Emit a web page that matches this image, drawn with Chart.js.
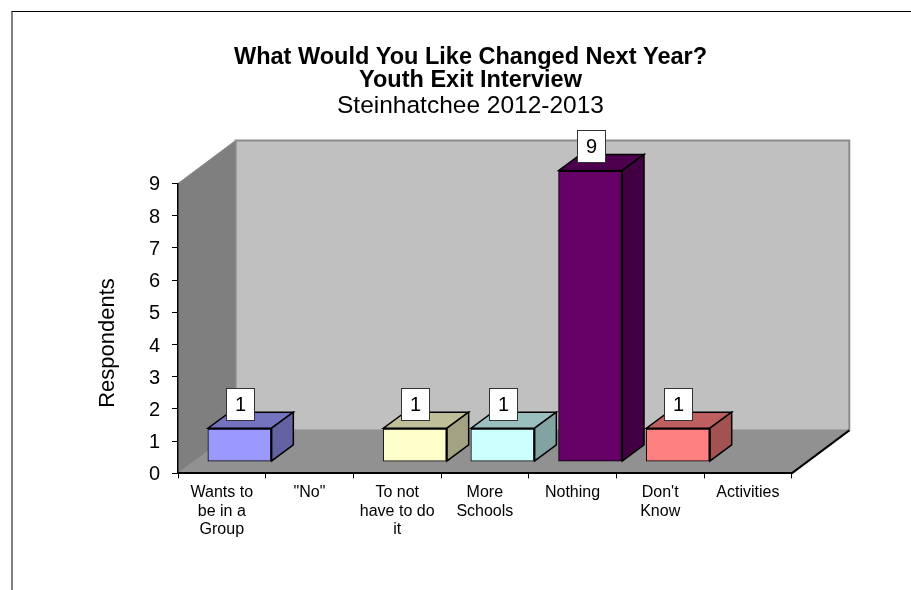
<!DOCTYPE html>
<html>
<head>
<meta charset="utf-8">
<title>What Would You Like Changed Next Year?</title>
<script src="https://cdn.jsdelivr.net/npm/chart.js@4"></script>
<style>
  html, body { margin: 0; padding: 0; background: #fff; overflow: hidden; }
  #wrap { position: relative; width: 911px; height: 590px; }
  #frame { position: absolute; left: 11px; top: 11px; right: 0; bottom: 0;
           border-left: 2px solid #808080; border-top: 1px solid #000; }
  canvas { position: absolute; left: 0; top: 0; }
</style>
</head>
<body>
<div id="wrap">
  <div id="frame"></div>
  <canvas id="chart" width="911" height="590"></canvas>
</div>
<script>
const categories = [
  ["Wants to", "be in a", "Group"],
  '"No"',
  ["To not", "have to do", "it"],
  ["More", "Schools"],
  "Nothing",
  ["Don't", "Know"],
  "Activities",
];
const respondents = [1, null, 1, 1, 9, 1, null];
const yTicks = [0, 1, 2, 3, 4, 5, 6, 7, 8, 9];
const frontColors = ["#9999FF", "#000000", "#FFFFCC", "#CCFFFF", "#660066", "#FF8080", "#000000"];
const topColors = ["#7373BF", "#000000", "#BFBF99", "#99BFBF", "#4D004D", "#BF6060", "#000000"];
const sideColors = ["#6262A3", "#000000", "#A3A383", "#83A3A3", "#420042", "#A35252", "#000000"];

const FONT = '"Liberation Sans", Arial, sans-serif';
// 3D look, in pixels
const WALL_DX = 57.6, WALL_DY = 43;
const BAR_OFF_X = 18, BAR_OFF_Y = 12.5;
const BAR_DX = 21.7, BAR_DY = 16;

function poly(ctx, pts, fill, stroke, lw) {
  ctx.beginPath();
  pts.forEach((p, i) => (i ? ctx.lineTo(p[0], p[1]) : ctx.moveTo(p[0], p[1])));
  ctx.closePath();
  if (fill) { ctx.fillStyle = fill; ctx.fill(); }
  if (stroke) { ctx.strokeStyle = stroke; ctx.lineWidth = lw || 1; ctx.stroke(); }
}

// back wall, side wall and floor
const wallsPlugin = {
  id: "walls",
  beforeDraw(chart) {
    const { ctx, chartArea: a } = chart;
    const l = a.left, r = a.right, t = a.top, b = a.bottom;
    ctx.save();
    poly(ctx, [[l + WALL_DX, t - WALL_DY], [r + WALL_DX, t - WALL_DY], [r + WALL_DX, b - WALL_DY], [l + WALL_DX, b - WALL_DY]], "#C0C0C0", "#8C8C8C", 2);
    poly(ctx, [[l, t], [l + WALL_DX, t - WALL_DY], [l + WALL_DX, b - WALL_DY], [l, b]], "#7F7F7F", "#8C8C8C", 1);
    poly(ctx, [[l, b], [l + WALL_DX, b - WALL_DY], [r + WALL_DX, b - WALL_DY], [r, b]], "#919191");
    ctx.strokeStyle = "#000";
    ctx.lineWidth = 2;
    ctx.beginPath();
    ctx.moveTo(r, b);
    ctx.lineTo(r + WALL_DX, b - WALL_DY);
    ctx.stroke();
    ctx.restore();
  },
};

// bar depth: top and side faces, the library draws the front face
const barDepthPlugin = {
  id: "barDepth",
  beforeDatasetDraw(chart, args) {
    const ctx = chart.ctx;
    ctx.save();
    ctx.translate(BAR_OFF_X, -BAR_OFF_Y);
    args.meta.data.forEach((bar, i) => {
      if (respondents[i] === null) return;
      const x0 = bar.x - bar.width / 2 - 0.5, x1 = bar.x + bar.width / 2 + 0.5;
      const y0 = bar.y - 0.5, y1 = bar.base + 0.5;
      poly(ctx, [[x0, y0], [x1, y0], [x1 + BAR_DX, y0 - BAR_DY], [x0 + BAR_DX, y0 - BAR_DY]], topColors[i], "#000", 1.5);
      poly(ctx, [[x1, y0], [x1 + BAR_DX, y0 - BAR_DY], [x1 + BAR_DX, y1 - BAR_DY], [x1, y1]], sideColors[i], "#000", 1.5);
    });
  },
  afterDatasetDraw(chart) {
    chart.ctx.restore();
  },
  // white value boxes, then the rotated axis title
  afterDatasetsDraw(chart) {
    const ctx = chart.ctx;
    const meta = chart.getDatasetMeta(0);
    ctx.save();
    ctx.textAlign = "center";
    ctx.textBaseline = "middle";
    meta.data.forEach((bar, i) => {
      if (respondents[i] === null) return;
      const cx = bar.x + BAR_OFF_X, bottom = Math.round(bar.y - BAR_OFF_Y - 9) + 0.5;
      const left = Math.round(cx - 14) + 0.5;
      ctx.fillStyle = "#fff";
      ctx.fillRect(left, bottom - 32, 28, 32);
      ctx.strokeStyle = "#333";
      ctx.lineWidth = 1;
      ctx.strokeRect(left, bottom - 32, 28, 32);
      ctx.fillStyle = "#000";
      ctx.font = "20px " + FONT;
      ctx.fillText(String(respondents[i]), left + 14, bottom - 15);
    });
    ctx.translate(108, 343);
    ctx.rotate(-Math.PI / 2);
    ctx.font = "22px " + FONT;
    ctx.fillText("Respondents", 0, 0);
    ctx.restore();
  },
};

new Chart(document.getElementById("chart").getContext("2d"), {
  type: "bar",
  data: {
    labels: categories,
    datasets: [{
      data: respondents,
      backgroundColor: frontColors,
      borderColor: "#000",
      borderWidth: { top: 2, right: 2, bottom: 1, left: 1 },
      borderSkipped: false,
      inflateAmount: 1,
      categoryPercentage: 1,
      barPercentage: 0.714,
      clip: false,
    }],
  },
  options: {
    responsive: false,
    animation: false,
    layout: { padding: { left: 149.3, right: 119.3, top: 0, bottom: 0 } },
    plugins: {
      legend: { display: false },
      tooltip: { enabled: false },
      title: {
        display: true,
        text: ["What Would You Like Changed Next Year?", "Youth Exit Interview"],
        color: "#000",
        font: { family: FONT, size: 23.5, weight: "bold", lineHeight: 1 },
        padding: { top: 45.5, bottom: 0 },
      },
      subtitle: {
        display: true,
        text: "Steinhatchee 2012-2013",
        color: "#000",
        font: { family: FONT, size: 24.5, weight: "normal", lineHeight: 1.1 },
        padding: { top: 0, bottom: 64 },
      },
    },
    scales: {
      x: {
        grid: { drawOnChartArea: false, color: "#000", tickLength: 5, lineWidth: 1 },
        border: { color: "#000", width: 2 },
        ticks: { color: "#000", font: { family: FONT, size: 16, lineHeight: 1.16 }, maxRotation: 0, padding: 5 },
        afterFit(scale) { scale.height = 116.6; },
      },
      y: {
        min: 0,
        max: 9,
        afterBuildTicks(scale) { scale.ticks = yTicks.map((v) => ({ value: v })); },
        grid: { drawOnChartArea: false, color: "#000", tickLength: 6, lineWidth: 1 },
        border: { color: "#000", width: 1.5 },
        ticks: { color: "#000", font: { family: FONT, size: 20 }, padding: 12, labelOffset: 1.5 },
        afterFit(scale) { scale.width = 28.7; },
      },
    },
  },
  plugins: [wallsPlugin, barDepthPlugin],
});
</script>
</body>
</html>
